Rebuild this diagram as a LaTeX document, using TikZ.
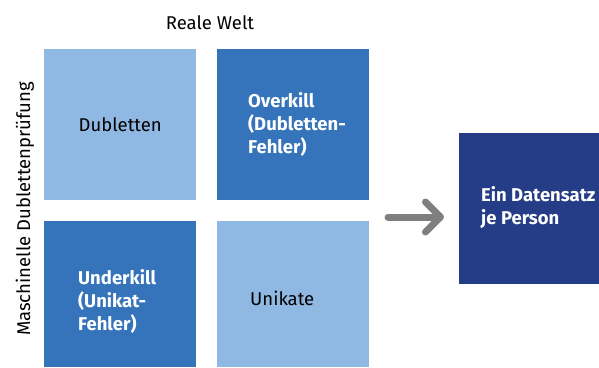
\documentclass[tikz,border=0pt]{standalone}
\usepackage{fontspec}
\setmainfont{Fira Sans}
\usetikzlibrary{arrows.meta}
\definecolor{hellblau}{HTML}{8FB8E2}
\definecolor{mittelblau}{HTML}{3574BA}
\definecolor{dunkelblau}{HTML}{253C87}
\definecolor{pfeilgrau}{HTML}{7F7F7F}

\begin{document}
\begin{tikzpicture}
	[x=1pt,y=-1pt,font=\fontsize{18.5}{23}\selectfont,
	feld/.style={minimum width=152pt,minimum height=151pt,inner sep=0pt,anchor=north west},
	hell/.style={feld,fill=hellblau,text=black},
	dunkel/.style={feld,fill=mittelblau},
	weiss/.style={text=white,font=\fontsize{18.5}{23}\selectfont\bfseries,align=left,anchor=west,inner sep=0pt},
	schwarz/.style={text=black,align=left,anchor=west,inner sep=0pt},
	pfeil/.style={draw=pfeilgrau,line width=7pt,line cap=round,-{Straight Barb[round,length=15pt,width=30pt]}},]
	\useasboundingbox (0,0) rectangle (599,367);
	% Matrix
	\node (dubl) at (44,49)[hell] {Dubletten};
	\node (over) at (217,49)[dunkel] {};
	\node (under) at (44,221)[dunkel,minimum height=146pt] {};
	\node (unik) at (217,221)[hell,minimum height=146pt] {};
	\node (ziel) at (459,133)[feld,fill=dunkelblau,minimum width=140pt] {};
	% Texte
	\node (overtext) at (248,124)[weiss] {Overkill\\(Dubletten-\\Fehler)};
	\node (undertext) at (78,301)[weiss] {Underkill\\(Unikat-\\Fehler)};
	\node (uniktext) at (250,298)[schwarz] {Unikate};
	\node (zieltext) at (481,208)[weiss] {Ein Datensatz\\je Person};
	\node (welt) at (210,29)[anchor=base] {Reale Welt};
	\node (achse) at (30,209)[rotate=90,anchor=base] {Maschinelle Dublettenprüfung};
	% Pfeil
	\coordinate (pfeilA) at (388,217);
	\coordinate (pfeilB) at (444,217);
	\draw[pfeil] (pfeilA) -- (pfeilB);
\end{tikzpicture}
\end{document}
